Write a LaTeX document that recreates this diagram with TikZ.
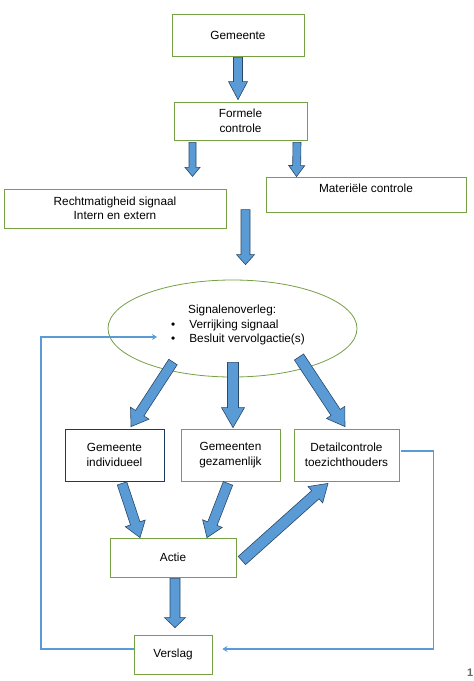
\documentclass[tikz,border=0pt]{standalone}
\usepackage{fontspec}
\setmainfont{Liberation Sans}
\usepackage{tikz}
\usetikzlibrary{positioning}
\usetikzlibrary{calc}
\usetikzlibrary{shapes.geometric}
\usetikzlibrary{arrows.meta}
\definecolor{kadergroen}{RGB}{118,160,70}
\definecolor{kaderblauw}{RGB}{31,56,100}
\definecolor{pijlblauw}{RGB}{91,155,213}
\definecolor{pijlrand}{RGB}{42,72,104}
\tikzset{
    stroomschema/.style={
            x=1pt,y=-1pt,
            font=\fontsize{11.8}{14.5}\selectfont,
            vak/.style={draw=kadergroen,line width=0.8pt,fill=white,align=center,inner sep=2pt},
            blokpijl/.style={fill=pijlblauw,draw=pijlrand,line width=0.6pt,line join=miter},
            terug/.style={draw=pijlblauw,line width=1.3pt,-{Stealth[length=5pt,width=6pt]}}
        }
    }
\newcommand{\blokpijl}[5]{%
    \coordinate (bpa) at #4;
    \coordinate (bpb) at #5;
    \coordinate (bph) at ($(bpb)!#3!(bpa)$);
    \draw [blokpijl] ($(bpa)!#1!90:(bpb)$) -- ($(bph)!#1!-90:(bpa)$) -- ($(bph)!#2!-90:(bpa)$)
        -- (bpb) -- ($(bph)!#2!90:(bpa)$) -- ($(bph)!#1!90:(bpa)$) -- ($(bpa)!#1!-90:(bpb)$) -- cycle;}

\begin{document}
\begin{tikzpicture}[stroomschema]
    \useasboundingbox (0,0) rectangle (474,681);
    \fill [white] (0,0) rectangle (474,681);
    \node [vak,minimum width=132pt,minimum height=42pt] (gemeente) at (238,35) {Gemeente};
    \node [vak,minimum width=133pt,minimum height=38pt] (formeel) at (240.5,121) {Formele\\controle};
    \node [vak,minimum width=222pt,minimum height=39pt] (recht) at (115,208.5) {Rechtmatigheid signaal\\Intern en extern};
    \node [vak,minimum width=200pt,minimum height=35pt,text depth=12pt] (materieel) at (366,194.5) {Materiële controle};
    \node [draw=kadergroen,line width=0.8pt,ellipse,minimum width=249pt,minimum height=97pt,inner sep=0pt] (overleg) at (232.5,328.5) {};
    \node [align=left] (overlegtekst) at (238,325) {\hspace{17pt}Signalenoverleg:\\\textbullet\hspace{14pt}Verrijking signaal\\\textbullet\hspace{14pt}Besluit vervolgactie(s)};
    \node [vak,draw=kaderblauw,minimum width=99pt,minimum height=52pt] (individueel) at (114.5,455) {Gemeente\\individueel};
    \node [vak,minimum width=99pt,minimum height=52pt] (gezamenlijk) at (230.5,455) {Gemeenten\\gezamenlijk};
    \node [vak,minimum width=105pt,minimum height=52pt] (detail) at (346.5,455) {Detailcontrole\\toezichthouders};
    \node [vak,minimum width=126pt,minimum height=39pt] (actie) at (173,557.5) {Actie};
    \node [vak,minimum width=78pt,minimum height=39pt] (verslag) at (173,654.5) {Verslag};
    \node [anchor=east,inner sep=0.5pt,text=gray!80!black,font=\bfseries\fontsize{11}{13}\selectfont] (paginanummer) at (474,673) {1};
    \blokpijl{4.5pt}{9.5pt}{18pt}{($(gemeente.south)+(0,1)$)}{($(formeel.north)+(-2.5,-2)$)}
    \blokpijl{3.5pt}{7.5pt}{9pt}{($(formeel.south)+(-48,2)$)}{($(formeel.south)+(-48,36)$)}
    \blokpijl{4pt}{8pt}{11pt}{($(formeel.south)+(56.5,2)$)}{($(materieel.north)+(-69.5,0)$)}
    \blokpijl{4.5pt}{9pt}{10pt}{($(overleg.north)+(13,-70)$)}{($(overleg.north)+(13,-15)$)}
    \blokpijl{5pt}{11pt}{16pt}{($(overleg.center)+(-59.5,33.5)$)}{($(individueel.north)+(16.5,-2)$)}
    \blokpijl{5.5pt}{11.5pt}{20pt}{($(overleg.south)+(0.5,-15)$)}{($(gezamenlijk.north)+(2.5,-1)$)}
    \blokpijl{5.5pt}{11pt}{17pt}{($(overleg.center)+(66.5,28.5)$)}{($(detail.north)+(-1.5,-2)$)}
    \blokpijl{5pt}{10.5pt}{15pt}{($(individueel.south)+(7.5,2)$)}{($(actie.north)+(-33,0)$)}
    \blokpijl{5pt}{10.5pt}{15pt}{($(gezamenlijk.south)+(-2.5,2)$)}{($(actie.north)+(34,0)$)}
    \blokpijl{5.5pt}{11pt}{17pt}{($(actie.east)+(5.5,3)$)}{($(detail.south)+(-18.5,2)$)}
    \blokpijl{5pt}{10.5pt}{10pt}{($(actie.south)+(2,1)$)}{($(verslag.north)+(2,-7)$)}
    \coordinate (lusin) at ($(overleg.center)+(-75.5,8.5)$);
    \draw [terug] ($(verslag.west)+(0,-5.5)$) -| ([xshift=-116pt]lusin) -- (lusin);
    \coordinate (lusuit) at ($(verslag.east)+(10,-5.5)$);
    \draw [terug] ($(detail.east)+(2,-4)$) -| ([xshift=211pt]lusuit) -- (lusuit);
\end{tikzpicture}
\end{document}
